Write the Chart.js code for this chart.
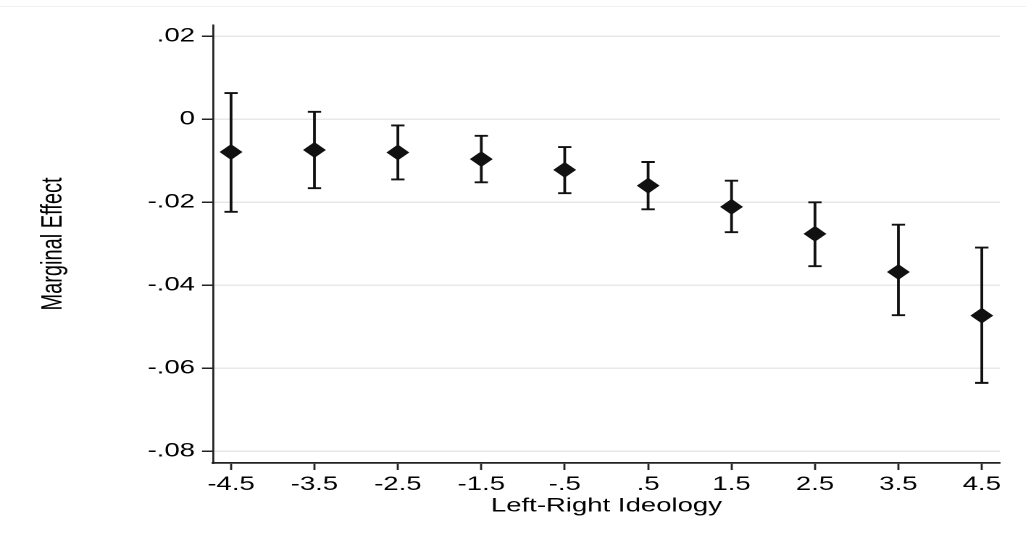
<!DOCTYPE html>
<html>
<head>
<meta charset="utf-8">
<script src="https://cdn.jsdelivr.net/npm/chart.js@4.4.1/dist/chart.umd.min.js"></script>
<style>
  html, body { margin: 0; padding: 0; background: #fff; overflow: hidden; }
  #topline { position: absolute; left: 0; top: 6px; width: 1026px; height: 1px; background: #f0f0f0; }
  /* the reference picture is stretched sideways, so the chart is drawn narrow and scaled */
  #wrap { position: absolute; left: 0; top: 0; width: 708px; height: 533px;
          transform: scaleX(1.449); transform-origin: 0 0; }
</style>
</head>
<body>
<div id="topline"></div>
<div id="wrap"><canvas id="effectChart"></canvas></div>
<script>
// Left-right ideology values and the marginal effect with its confidence interval
const ideology = [-4.5, -3.5, -2.5, -1.5, -0.5, 0.5, 1.5, 2.5, 3.5, 4.5];
const effect = [-0.0079, -0.0074, -0.0080, -0.0096, -0.0122, -0.0160, -0.0211, -0.0276, -0.0368, -0.0473];
const upper = [0.0063, 0.0018, -0.0015, -0.0040, -0.0067, -0.0103, -0.0148, -0.0200, -0.0254, -0.0309];
const lower = [-0.0223, -0.0166, -0.0145, -0.0152, -0.0178, -0.0217, -0.0272, -0.0354, -0.0472, -0.0635];

const xTicks = [-4.5, -3.5, -2.5, -1.5, -0.5, 0.5, 1.5, 2.5, 3.5, 4.5];
const xTickLabels = ["-4.5", "-3.5", "-2.5", "-1.5", "-.5", ".5", "1.5", "2.5", "3.5", "4.5"];
const yTicks = [0.02, 0, -0.02, -0.04, -0.06, -0.08];
const yTickLabels = [".02", "0", "-.02", "-.04", "-.06", "-.08"];

Chart.defaults.font.family = "'Liberation Sans', Arial, Helvetica, sans-serif";
Chart.defaults.font.size = 19;
Chart.defaults.color = "#000";

// Error bars with caps, drawn under the markers
const errorBars = {
  id: "errorBars",
  beforeDatasetsDraw(chart) {
    const { ctx, scales } = chart;
    const cap = 4.6;
    ctx.save();
    ctx.strokeStyle = "#111";
    ctx.lineWidth = 1.9;
    ideology.forEach((v, i) => {
      const px = scales.x.getPixelForValue(v);
      const top = scales.y.getPixelForValue(upper[i]);
      const bot = scales.y.getPixelForValue(lower[i]);
      ctx.beginPath();
      ctx.moveTo(px, top);
      ctx.lineTo(px, bot);
      ctx.moveTo(px - cap, top);
      ctx.lineTo(px + cap, top);
      ctx.moveTo(px - cap, bot);
      ctx.lineTo(px + cap, bot);
      ctx.stroke();
    });
    ctx.restore();
  },
};

const ctx = document.getElementById("effectChart").getContext("2d");
new Chart(ctx, {
  type: "scatter",
  data: {
    datasets: [
      {
        label: "Marginal Effect",
        data: ideology.map((v, i) => ({ x: v, y: effect[i] })),
        pointStyle: "rectRot",
        pointRadius: 7.2,
        pointBackgroundColor: "#111",
        pointBorderColor: "#111",
        pointBorderWidth: 1,
        showLine: false,
      },
    ],
  },
  options: {
    responsive: true,
    maintainAspectRatio: false,
    animation: false,
    devicePixelRatio: 2,
    events: [],
    layout: {
      padding: { left: 0, right: 18, top: 25, bottom: 15 },
    },
    plugins: {
      legend: { display: false },
      tooltip: { enabled: false },
    },
    scales: {
      x: {
        type: "linear",
        min: -4.716,
        max: 4.716,
        afterBuildTicks: (scale) => {
          scale.ticks = xTicks.map((v) => ({ value: v }));
        },
        afterFit: (scale) => {
          scale.height = 55;
        },
        ticks: {
          autoSkip: false,
          maxRotation: 0,
          padding: 3.5,
          callback: (value, index) => xTickLabels[index],
        },
        grid: {
          drawOnChartArea: false,
          drawTicks: true,
          tickLength: 7,
          tickColor: "#222",
          tickWidth: 1.4,
        },
        border: { color: "#222", width: 1.8 },
        title: {
          display: true,
          text: "Left-Right Ideology",
          padding: { top: 0, bottom: 0.5 },
        },
      },
      y: {
        min: -0.0828,
        max: 0.0227,
        afterBuildTicks: (scale) => {
          scale.ticks = yTicks.map((v) => ({ value: v }));
        },
        afterFit: (scale) => {
          scale.width = 147;
        },
        ticks: {
          padding: 4.8,
          callback: (value, index) => yTickLabels[index],
        },
        grid: {
          color: "#e8e8e8",
          lineWidth: 1.5,
          drawTicks: true,
          tickLength: 7.6,
          tickColor: "#222",
          tickWidth: 1.5,
        },
        border: { color: "#222", width: 1.4 },
        title: {
          display: true,
          text: "Marginal Effect",
          font: { size: 20 },
          padding: { top: 25, bottom: 0 },
        },
      },
    },
  },
  plugins: [errorBars],
});
</script>
</body>
</html>
